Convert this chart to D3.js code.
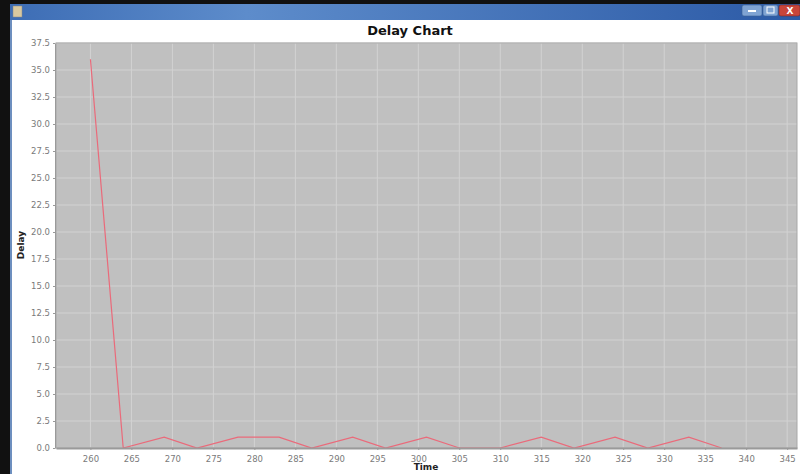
<!DOCTYPE html>
<html><head><meta charset="utf-8">
<script src="https://cdn.jsdelivr.net/npm/d3@7"></script>
<style>html,body{margin:0;padding:0;background:#fff;}svg{display:block;}</style>
</head><body>
<script>
const time  = [260, 264, 269, 273, 278, 283, 287, 292, 296, 301, 305, 310, 315, 319, 324, 328, 333, 337];
const delay = [36,  0,   1,   0,   1,   1,   0,   1,   0,   1,   0,   0,   1,   0,   1,   0,   1,   0];
const xTicks = [260,265,270,275,280,285,290,295,300,305,310,315,320,325,330,335,340,345];
const yTicks = [0,2.5,5,7.5,10,12.5,15,17.5,20,22.5,25,27.5,30,32.5,35,37.5];
const title = "Delay Chart", xLabel = "Time", yLabel = "Delay";

const W = 800, H = 474;
const svg = d3.select("body").append("svg").attr("width", W).attr("height", H);

// window chrome
svg.append("rect").attr("x",0).attr("y",0).attr("width",W).attr("height",H).attr("fill","#fff");
svg.append("rect").attr("x",0).attr("y",0).attr("width",W).attr("height",4).attr("fill","#111");
svg.append("rect").attr("x",0).attr("y",0).attr("width",10).attr("height",H).attr("fill","#111");
svg.append("rect").attr("x",10).attr("y",20).attr("width",2).attr("height",H-20).attr("fill","#6d8fbf");
const g = svg.append("defs").append("linearGradient").attr("id","tb").attr("x1",0).attr("x2",1).attr("y1",0).attr("y2",0);
g.append("stop").attr("offset","0").attr("stop-color","#3d6db5");
g.append("stop").attr("offset","0.3").attr("stop-color","#5d8ccb");
g.append("stop").attr("offset","1").attr("stop-color","#2c5aa6");
svg.append("rect").attr("x",10).attr("y",4).attr("width",W-10).attr("height",16).attr("fill","url(#tb)");
svg.append("rect").attr("x",13).attr("y",6).attr("width",9).attr("height",11).attr("fill","#d8c8a0").attr("stroke","#888").attr("stroke-width",0.5);
svg.append("rect").attr("x",742).attr("y",5).attr("width",20).attr("height",11).attr("rx",2).attr("fill","#7fa3d3").attr("stroke","#3a5f96").attr("stroke-width",0.6);
svg.append("rect").attr("x",748).attr("y",10).attr("width",8).attr("height",2).attr("fill","#fff");
svg.append("rect").attr("x",763).attr("y",5).attr("width",15).attr("height",11).attr("rx",2).attr("fill","#7fa3d3").attr("stroke","#3a5f96").attr("stroke-width",0.6);
svg.append("rect").attr("x",767).attr("y",7).attr("width",7).attr("height",6).attr("fill","none").attr("stroke","#fff").attr("stroke-width",1);
svg.append("rect").attr("x",779).attr("y",5).attr("width",21).attr("height",11).attr("rx",2).attr("fill","#c8453a").attr("stroke","#7a2a2a").attr("stroke-width",0.6);
svg.append("text").attr("x",790).attr("y",14).attr("text-anchor","middle").attr("fill","#fff").attr("font-family","DejaVu Sans").attr("font-size",9).attr("font-weight","bold").text("X");

// plot
const L = 56, R = 797, T = 43, B = 448;
const x = d3.scaleLinear().domain([255.8, 346.2]).range([L, R]);
const y = d3.scaleLinear().domain([0, 37.5]).range([B, T]);

svg.append("rect").attr("x",L).attr("y",T).attr("width",R-L).attr("height",B-T).attr("fill","#c0c0c0");

// gridlines
svg.append("g").selectAll("line").data(xTicks).join("line")
  .attr("x1",d=>x(d)).attr("x2",d=>x(d)).attr("y1",T).attr("y2",B)
  .attr("stroke","#d2d2d2").attr("stroke-width",1);
svg.append("g").selectAll("line").data(yTicks).join("line")
  .attr("x1",L).attr("x2",R).attr("y1",d=>y(d)).attr("y2",d=>y(d))
  .attr("stroke","#d2d2d2").attr("stroke-width",1);
svg.append("rect").attr("x",L).attr("y",T).attr("width",R-L).attr("height",B-T)
  .attr("fill","none").attr("stroke","#a8a8a8").attr("stroke-width",1);

// line
svg.append("path").datum(time.map((t,i)=>[t,delay[i]]))
  .attr("fill","none").attr("stroke","#ea6a7a").attr("stroke-width",1.2)
  .attr("d", d3.line().x(d=>x(d[0])).y(d=>y(d[1])));

// axes (drawn over the line, as in the reference)
const xAxis = d3.axisBottom(x).tickValues(xTicks).tickFormat(d3.format("d")).tickSize(2).tickSizeOuter(0);
const yAxis = d3.axisLeft(y).tickValues(yTicks).tickFormat(d3.format(".1f")).tickSize(2).tickSizeOuter(0);
const gx = svg.append("g").attr("transform",`translate(0,${B})`).call(xAxis);
const gy = svg.append("g").attr("transform",`translate(${L-1},0)`).call(yAxis);
gx.select(".domain").attr("stroke","#9a9a9a").attr("stroke-width",2.2);
gy.select(".domain").attr("stroke","#9a9a9a");
[gx, gy].forEach(a => {
  a.selectAll(".tick line").attr("stroke","#999");
  a.selectAll("text").attr("fill","#7a7a7a").attr("font-family","DejaVu Sans").attr("font-size",8.5);
});
gx.selectAll("text").attr("dy","1em");

// labels
svg.append("text").attr("x",410).attr("y",35).attr("text-anchor","middle")
  .attr("font-family","DejaVu Sans").attr("font-weight","bold").attr("font-size",13).attr("fill","#111").text(title);
svg.append("text").attr("x",426).attr("y",470).attr("text-anchor","middle")
  .attr("font-family","DejaVu Sans").attr("font-weight","bold").attr("font-size",9).attr("fill","#222").text(xLabel);
svg.append("text").attr("transform","translate(24,245) rotate(-90)").attr("text-anchor","middle")
  .attr("font-family","DejaVu Sans").attr("font-weight","bold").attr("font-size",9).attr("fill","#222").text(yLabel);
</script>
</body></html>
